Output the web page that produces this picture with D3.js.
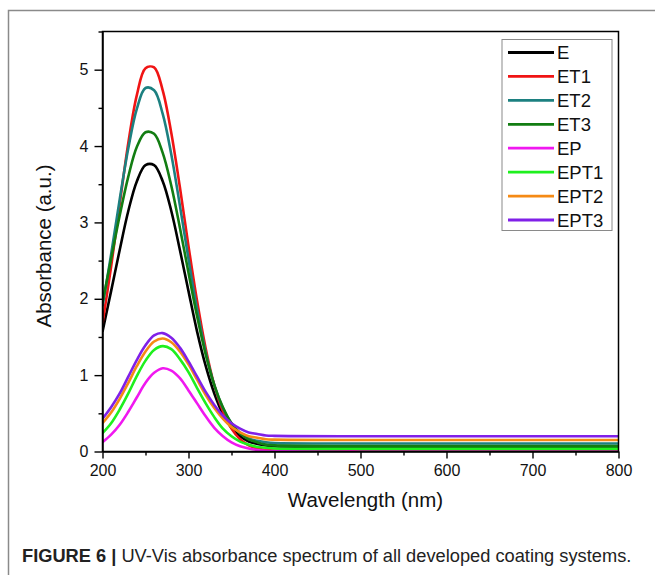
<!DOCTYPE html>
<html>
<head>
<meta charset="utf-8">
<script src="https://cdn.jsdelivr.net/npm/d3@7"></script>
<style>
  html, body { margin: 0; padding: 0; background: #fff; }
  svg { display: block; font-family: "Liberation Sans", Arial, sans-serif; }
</style>
</head>
<body>
<svg id="chart" width="655" height="575"></svg>
<script>
// Wavelength grid (nm) shared by every spectrum
const wavelengths = [200,210,220,230,240,250,260,270,280,290,300,310,320,330,340,350,360,370,380,390,400,500,600,700,800];

// Absorbance (a.u.) of each coating system on that grid
const absE    = [1.57,2.10,2.64,3.15,3.54,3.75,3.75,3.54,3.15,2.64,2.10,1.57,1.12,0.76,0.49,0.31,0.20,0.13,0.10,0.08,0.07,0.06,0.06,0.06,0.06];
const absET1  = [1.68,2.42,3.24,4.04,4.67,5.02,5.03,4.73,4.17,3.46,2.69,1.97,1.35,0.87,0.53,0.30,0.16,0.08,0.04,0.02,0.012,0.01,0.01,0.01,0.01];
const absET2  = [1.90,2.58,3.30,3.97,4.49,4.76,4.73,4.42,3.89,3.22,2.52,1.86,1.30,0.87,0.57,0.37,0.24,0.17,0.14,0.12,0.11,0.105,0.105,0.105,0.105];
const absET3  = [1.95,2.52,3.09,3.60,3.99,4.18,4.16,3.91,3.48,2.93,2.34,1.77,1.27,0.87,0.58,0.37,0.24,0.16,0.12,0.09,0.08,0.07,0.07,0.07,0.07];
const absEP   = [0.12,0.22,0.35,0.52,0.71,0.90,1.03,1.09,1.06,0.96,0.80,0.63,0.46,0.31,0.20,0.12,0.07,0.04,0.02,0.01,0.005,0.0,0.0,0.0,0.0];
const absEPT1 = [0.24,0.37,0.55,0.76,0.99,1.19,1.33,1.38,1.34,1.21,1.04,0.83,0.63,0.45,0.30,0.20,0.13,0.09,0.06,0.05,0.04,0.035,0.035,0.035,0.035];
const absEPT2 = [0.37,0.51,0.69,0.90,1.12,1.31,1.44,1.48,1.43,1.31,1.14,0.94,0.74,0.57,0.43,0.32,0.25,0.20,0.18,0.16,0.155,0.15,0.15,0.15,0.15];
const absEPT3 = [0.43,0.58,0.76,0.98,1.20,1.39,1.52,1.55,1.49,1.36,1.18,0.98,0.78,0.61,0.47,0.37,0.30,0.25,0.23,0.21,0.205,0.20,0.20,0.20,0.20];

const seriesNames  = ["E","ET1","ET2","ET3","EP","EPT1","EPT2","EPT3"];
const seriesValues = [absE, absET1, absET2, absET3, absEP, absEPT1, absEPT2, absEPT3];
const seriesColors = ["#000000","#f01414","#1c8080","#127d12","#f018f0","#1ef01e","#f58a14","#8020e8"];

const xMajorTicks = [200,300,400,500,600,700,800];
const xMinorTicks = [250,350,450,550,650,750];
const yMajorTicks = [0,1,2,3,4,5];
const yMinorTicks = [0.5,1.5,2.5,3.5,4.5,5.5];

const xTitle = "Wavelength (nm)";
const yTitle = "Absorbance (a.u.)";
const captionBold = "FIGURE 6 | ";
const captionText = "UV-Vis absorbance spectrum of all developed coating systems.";

const svg = d3.select("#chart");

// outer figure frame (left and top edges)
svg.append("path")
  .attr("d", "M8.5,575V10.5H655")
  .attr("fill", "none")
  .attr("stroke", "#8a8a8a")
  .attr("stroke-width", 1.5);

const plot = { left: 102.5, right: 618.5, top: 31.5, bottom: 451.5 };

const x = d3.scaleLinear().domain([200, 800]).range([plot.left, plot.right]);
const y = d3.scaleLinear().domain([0, 5.5]).range([plot.bottom, plot.top]);

// spectra
const line = d3.line()
  .x((d, i) => x(wavelengths[i]))
  .y(d => y(d))
  .curve(d3.curveCatmullRom.alpha(0.5));

const linesG = svg.append("g").attr("clip-path", "url(#plotClip)");
svg.append("clipPath").attr("id", "plotClip")
  .append("rect")
  .attr("x", plot.left).attr("y", plot.top)
  .attr("width", plot.right - plot.left).attr("height", plot.bottom - plot.top);

seriesValues.forEach((vals, k) => {
  linesG.append("path")
    .datum(vals)
    .attr("d", line)
    .attr("fill", "none")
    .attr("stroke", seriesColors[k])
    .attr("stroke-width", 2.6)
    .attr("stroke-linejoin", "round");
});

// plot frame
svg.append("rect")
  .attr("x", plot.left).attr("y", plot.top)
  .attr("width", plot.right - plot.left).attr("height", plot.bottom - plot.top)
  .attr("fill", "none").attr("stroke", "#000").attr("stroke-width", 1.5);

// axes
const tickFont = 16;
svg.append("g").attr("transform", `translate(0,${plot.bottom})`)
  .call(d3.axisBottom(x).tickValues(xMajorTicks).tickSize(7).tickSizeOuter(0).tickPadding(6).tickFormat(d3.format("d")));
svg.append("g").attr("transform", `translate(0,${plot.bottom})`)
  .call(d3.axisBottom(x).tickValues(xMinorTicks).tickSize(4).tickSizeOuter(0).tickFormat(""))
  .select(".domain").remove();

svg.append("g").attr("transform", `translate(${plot.left},0)`)
  .call(d3.axisLeft(y).tickValues(yMajorTicks).tickSize(8).tickSizeOuter(0).tickPadding(6).tickFormat(d3.format("d")));
svg.append("g").attr("transform", `translate(${plot.left},0)`)
  .call(d3.axisLeft(y).tickValues(yMinorTicks).tickSize(4).tickSizeOuter(0).tickFormat(""))
  .select(".domain").remove();

svg.selectAll(".tick line").attr("stroke", "#000").attr("stroke-width", 1.4);
svg.selectAll(".domain").attr("stroke", "#000").attr("stroke-width", 1.5);
svg.selectAll(".tick text")
  .attr("fill", "#111")
  .style("font-size", tickFont + "px")
  .style("font-family", "'Liberation Sans', Arial, sans-serif");

// axis titles
svg.append("text")
  .attr("x", (plot.left + plot.right) / 2 + 5)
  .attr("y", 507)
  .attr("text-anchor", "middle")
  .attr("fill", "#111")
  .style("font-size", "20.5px")
  .text(xTitle);

svg.append("text")
  .attr("transform", "translate(51,246) rotate(-90)")
  .attr("text-anchor", "middle")
  .attr("fill", "#111")
  .style("font-size", "20.5px")
  .text(yTitle);

// legend
const legend = svg.append("g");
legend.append("rect")
  .attr("x", 502).attr("y", 39.5)
  .attr("width", 110).attr("height", 191)
  .attr("fill", "#fff")
  .attr("stroke", "#8a8a8a").attr("stroke-width", 1);

const rowY = d3.scaleLinear().domain([0, seriesNames.length - 1]).range([52.5, 220]);
seriesNames.forEach((name, k) => {
  legend.append("line")
    .attr("x1", 508).attr("x2", 554)
    .attr("y1", rowY(k)).attr("y2", rowY(k))
    .attr("stroke", seriesColors[k]).attr("stroke-width", 2.8);
  legend.append("text")
    .attr("x", 557).attr("y", rowY(k))
    .attr("dy", "0.36em")
    .attr("fill", "#111")
    .style("font-size", "18.5px")
    .text(name);
});

// caption
const cap = svg.append("text")
  .attr("x", 22).attr("y", 562)
  .attr("fill", "#222")
  .style("font-size", "18px");
cap.append("tspan").style("font-weight", "bold").text(captionBold);
cap.append("tspan").text(captionText);
const capW = cap.node().getComputedTextLength();
cap.style("font-size", (18 * 610 / capW) + "px");
</script>
</body>
</html>
